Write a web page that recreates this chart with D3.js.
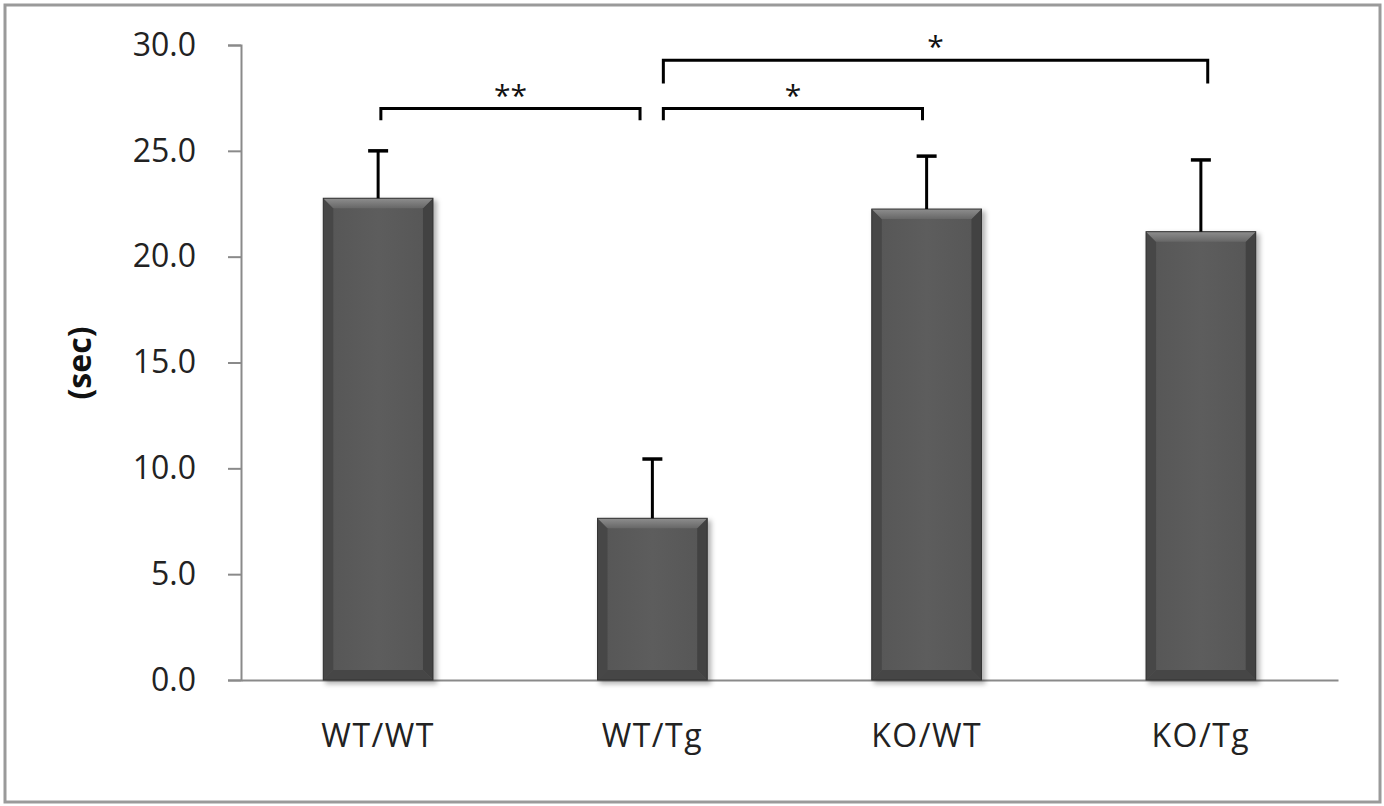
<!DOCTYPE html>
<html><head><meta charset="utf-8">
<script src="https://cdn.jsdelivr.net/npm/d3@7"></script>
<style>html,body{margin:0;padding:0;background:#fff;}svg{display:block;}</style>
</head><body>
<svg id="chart" width="1384" height="806"></svg>
<script>
const categories = ["WT/WT", "WT/Tg", "KO/WT", "KO/Tg"];
const means = [22.76, 7.64, 22.25, 21.18];
const errors = [2.24, 2.8, 2.5, 3.39];
const yTicks = [0, 5, 10, 15, 20, 25, 30];
const yLabel = "(sec)";
// significance brackets: from/to category, level (data units), drop (data units), label
const brackets = [
  {from: "WT/WT", to: "WT/Tg", level: 27.0, drop: 0.55, label: "**", fo: 0.01, to2: -0.045},
  {from: "WT/Tg", to: "KO/WT", level: 27.0, drop: 0.55, label: "*", fo: 0.04, to2: -0.015},
  {from: "WT/Tg", to: "KO/Tg", level: 29.28, drop: 1.1, label: "*", fo: 0.04, to2: 0.025}
];

const svg = d3.select("#chart");
const W = 1384, H = 806;
const font = "'Open Sans', 'Liberation Sans', sans-serif";

// outer border
svg.append("rect").attr("x", 5).attr("y", 5).attr("width", W - 9).attr("height", H - 9)
  .attr("fill", "#fff").attr("stroke", "#9a9a9a").attr("stroke-width", 3);

const x = d3.scaleBand().domain(categories).range([241, 1338]).paddingInner(0.6).paddingOuter(0.3);
const y = d3.scaleLinear().domain([0, 30]).range([680, 45]);

const defs = svg.append("defs");
const f = defs.append("filter").attr("id", "sh").attr("x", "-20%").attr("y", "-20%").attr("width", "140%").attr("height", "140%");
f.append("feGaussianBlur").attr("stdDeviation", 2.5);
const tg = defs.append("linearGradient").attr("id", "topbev").attr("x1", 0).attr("y1", 0).attr("x2", 0).attr("y2", 1);
tg.append("stop").attr("offset", "0%").attr("stop-color", "#8e8e8e");
tg.append("stop").attr("offset", "100%").attr("stop-color", "#676767");
const mg = defs.append("linearGradient").attr("id", "mid").attr("x1", 0).attr("y1", 0).attr("x2", 1).attr("y2", 0);
mg.append("stop").attr("offset", "0%").attr("stop-color", "#565656");
mg.append("stop").attr("offset", "50%").attr("stop-color", "#5d5d5d");
mg.append("stop").attr("offset", "100%").attr("stop-color", "#565656");

// y axis
const yAxis = d3.axisLeft(y).tickValues(yTicks).tickFormat(d3.format(".1f")).tickSize(13).tickPadding(32);
const ga = svg.append("g").attr("transform", "translate(241,0)").call(yAxis);
ga.select(".domain").attr("stroke", "#8a8a8a").attr("stroke-width", 2);
ga.selectAll(".tick line").attr("stroke", "#8a8a8a").attr("stroke-width", 2);
ga.selectAll(".tick text").attr("font-family", font).attr("font-size", 32).attr("fill", "#222");

// x axis
const xAxis = d3.axisBottom(x).tickSize(0).tickPadding(44);
const gx = svg.append("g").attr("transform", "translate(0,680)").call(xAxis);
gx.select(".domain").attr("stroke", "#8a8a8a").attr("stroke-width", 2);
gx.selectAll(".tick text").attr("font-family", font).attr("font-size", 32)
  .attr("letter-spacing", 1.5).attr("fill", "#222");

// y label
svg.append("text").attr("transform", "translate(91,363) rotate(-90)")
  .attr("text-anchor", "middle").attr("font-family", font).attr("font-weight", "bold")
  .attr("font-size", 32).attr("fill", "#111").text(yLabel);

// bars
const b = 10;
const bars = svg.append("g").selectAll("g").data(categories).join("g");
bars.each(function(c, i) {
  const g = d3.select(this);
  const x0 = x(c), x1 = x(c) + x.bandwidth();
  const top = y(means[i]), bot = y(0);
  g.append("rect").attr("x", x0 + 2).attr("y", top + 2).attr("width", x1 - x0 + 2).attr("height", bot - top + 2)
    .attr("fill", "rgba(0,0,0,0.3)").attr("filter", "url(#sh)");
  g.append("rect").attr("x", x0).attr("y", top).attr("width", x1 - x0).attr("height", bot - top).attr("fill", "url(#mid)");
  g.append("polygon").attr("points", [[x0, top], [x0 + b, top + b], [x0 + b, bot - b], [x0, bot]].join(" ")).attr("fill", "#474747");
  g.append("polygon").attr("points", [[x1, top], [x1 - b, top + b], [x1 - b, bot - b], [x1, bot]].join(" ")).attr("fill", "#424242");
  g.append("polygon").attr("points", [[x0, bot], [x0 + b, bot - b], [x1 - b, bot - b], [x1, bot]].join(" ")).attr("fill", "#464646");
  g.append("polygon").attr("points", [[x0, top], [x1, top], [x1 - b, top + b], [x0 + b, top + b]].join(" ")).attr("fill", "url(#topbev)");
  g.append("rect").attr("x", x0).attr("y", top).attr("width", x1 - x0).attr("height", bot - top)
    .attr("fill", "none").attr("stroke", "#333").attr("stroke-width", 1);
  // error bar
  const cx = x0 + x.bandwidth() / 2;
  g.append("line").attr("x1", cx).attr("x2", cx).attr("y1", top).attr("y2", y(means[i] + errors[i]))
    .attr("stroke", "#000").attr("stroke-width", 3);
  g.append("line").attr("x1", cx - 10).attr("x2", cx + 10).attr("y1", y(means[i] + errors[i])).attr("y2", y(means[i] + errors[i]))
    .attr("stroke", "#000").attr("stroke-width", 3.5);
});

// brackets
const bg = svg.append("g");
brackets.forEach(br => {
  const xa = x(br.from) + x.bandwidth() / 2 + br.fo * x.step();
  const xb = x(br.to) + x.bandwidth() / 2 + br.to2 * x.step();
  const yl = y(br.level), yd = y(br.level - br.drop);
  bg.append("path").attr("d", `M${xa},${yd}V${yl}H${xb}V${yd}`)
    .attr("fill", "none").attr("stroke", "#000").attr("stroke-width", 3);
  bg.append("text").attr("x", (xa + xb) / 2).attr("y", yl - 3).attr("text-anchor", "middle")
    .attr("font-family", font).attr("font-size", 30).attr("fill", "#111").text(br.label);
});
</script>
</body></html>
